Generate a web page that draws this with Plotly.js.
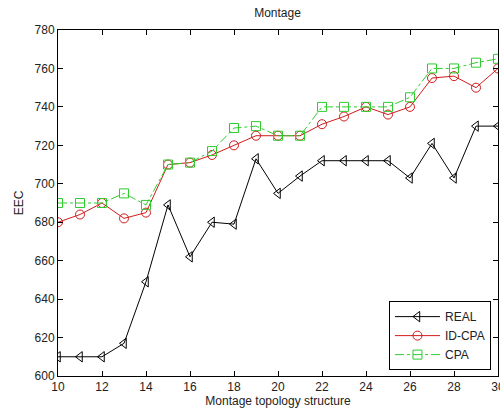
<!DOCTYPE html>
<html>
<head>
<meta charset="utf-8">
<script src="https://cdn.plot.ly/plotly-3.0.1.min.js"></script>
<style>html,body{margin:0;padding:0;background:#fff;}#chart{width:500px;height:414px;}</style>
</head>
<body>
<div id="chart"></div>
<script>
const xValues = [10,11,12,13,14,15,16,17,18,19,20,21,22,23,24,25,26,27,28,29,30];
const realValues = [610,610,610,617,649,689,662,680,679,713,695,704,712,712,712,712,703,721,703,730,730];
const idcpaValues = [680,684,690,682,685,710,711,715,720,725,725,725,731,735,740,736,740,755,756,750,760];
const cpaValues = [690,690,690,695,689,710,711,717,729,730,725,725,740,740,740,740,745,760,760,763,765];
const seriesNames = ["REAL","ID-CPA","CPA"];
const xTicks = [10,12,14,16,18,20,22,24,26,28,30];
const yTicks = [600,620,640,660,680,700,720,740,760,780];

const traces = [
  {x: xValues, y: realValues, name: seriesNames[0], mode: "lines+markers",
   line: {color: "#000000", width: 1},
   marker: {symbol: "triangle-left-open", size: 9, color: "#000000", line: {width: 1}}},
  {x: xValues, y: idcpaValues, name: seriesNames[1], mode: "lines+markers",
   line: {color: "#d01c1c", width: 1},
   marker: {symbol: "circle-open", size: 9, color: "#d01c1c", line: {width: 1}}},
  {x: xValues, y: cpaValues, name: seriesNames[2], mode: "lines+markers",
   line: {color: "#2ecc2e", width: 1, dash: "dashdot"},
   marker: {symbol: "square-open", size: 9, color: "#2ecc2e", line: {width: 1}}}
];

const axisCommon = {
  showgrid: false, zeroline: false, showline: true, mirror: "ticks",
  linecolor: "#000", linewidth: 1, ticks: "inside", ticklen: 5, tickcolor: "#000",
  tickfont: {family: "Liberation Sans, Arial, sans-serif", size: 12, color: "#222"},
  ticklabeloverflow: "allow",
  automargin: false
};

const layout = {
  width: 500, height: 414,
  margin: {l: 58, r: 2, t: 30, b: 38},
  paper_bgcolor: "#fff", plot_bgcolor: "#fff",
  font: {family: "Liberation Sans, Arial, sans-serif", size: 12, color: "#222"},
  title: {text: "Montage", x: 0.555, xanchor: "center", y: 0.98, yanchor: "top",
          font: {size: 12, color: "#222"}},
  xaxis: Object.assign({}, axisCommon, {
    range: [10, 30], tickvals: xTicks, ticktext: xTicks.map(String),
    title: {text: "Montage topology structure", standoff: 2, font: {size: 12, color: "#222"}}
  }),
  yaxis: Object.assign({}, axisCommon, {
    range: [600, 780], tickvals: yTicks, ticktext: yTicks.map(String),
    title: {text: "EEC", standoff: 8, font: {size: 12, color: "#222"}}
  }),
  showlegend: true,
  legend: {x: 0.984, xanchor: "right", y: 0.017, yanchor: "bottom",
           bgcolor: "#fff", bordercolor: "#000", borderwidth: 1, itemwidth: 45,
           font: {size: 12, color: "#222"}, tracegroupgap: 0}
};

Plotly.newPlot("chart", traces, layout, {displayModeBar: false, staticPlot: true});
</script>
</body>
</html>
